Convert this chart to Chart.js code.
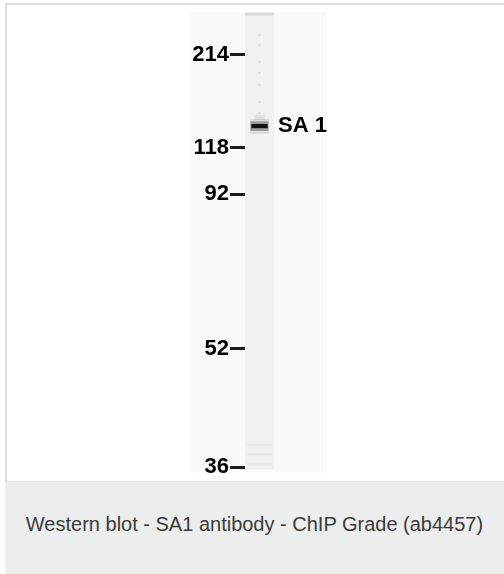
<!DOCTYPE html>
<html>
<head>
<meta charset="utf-8">
<script src="https://cdn.jsdelivr.net/npm/chart.js@4.4.1/dist/chart.umd.min.js"></script>
<style>
    body { margin: 0; width: 504px; height: 574px; overflow: hidden; background: #fff; position: relative; font-family: "Liberation Sans", Arial, sans-serif; }
    .frame { position: absolute; left: 5px; top: 3px; width: 504px; height: 476px; border-left: 2px solid #dcdcdc; border-top: 2px solid #dcdcdc; }
    .gel { position: absolute; left: 190px; top: 12px; width: 137px; height: 461px; background: #fafafa; }
    .caption { position: absolute; left: 5px; top: 481px; width: 499px; height: 93px; background: #eceeed; border-top: 1px solid #e2e2e2; box-sizing: border-box; }
    .caption span { position: absolute; left: 0; width: 100%; top: 31px; text-align: center; font-size: 20px; line-height: 23px; color: #3a3a3a; }
</style>
</head>
<body>
<div class="frame"></div>
<div class="gel"></div>
<div style="position:absolute;left:7px;top:5px;width:497px;height:476px">
    <canvas id="blot" width="497" height="476"></canvas>
</div>
<div class="caption"><span>Western blot - SA1 antibody - ChIP Grade (ab4457)</span></div>

<script>
// migration: 0 = top of the gel, 100 = bottom
var laneLabels = ['lane'];
var markerLabels = ['214', '118', '92', '52', '36'];
var markerMigration = [9.3, 29.5, 39.5, 73.1, 98.7];
var bandLabels = ['SA 1'];
var bandMigration = [24.7];
var laneRange = [0.2, 99.3];
var wellEdge = [0.2, 0.7];
var bandCore = [24.3, 25.2];
var bandHalo = [23.7, 25.8];
var bandGlow = [23.2, 26.4];
var smear = [22.3, 23.4];
var speckMigration = [5.0, 7.2, 10.8, 13.2, 15.8, 19.5, 21.9];
var streaks = [[93.6, 94.2], [95.7, 96.2], [97.7, 98.4]];

var fontFamily = '"Liberation Sans", Arial, sans-serif';

function floating(range, color, width) {
    return {
        type: 'bar',
        data: [range],
        backgroundColor: color,
        barPercentage: width,
        categoryPercentage: 1,
        grouped: false,
        borderWidth: 0
    };
}

var datasets = [
    floating(laneRange, '#f1f1f1', 1),
    floating(wellEdge, '#d8d8d8', 1)
];
streaks.forEach(function (s) {
    datasets.push(floating(s, 'rgba(0,0,0,0.035)', 0.85));
});
datasets.push(floating(smear, 'rgba(0,0,0,0.08)', 0.35));
datasets.push(floating(bandGlow, 'rgba(0,0,0,0.08)', 0.66));
datasets.push(floating(bandHalo, 'rgba(0,0,0,0.3)', 0.62));
datasets.push(floating(bandCore, '#111', 0.56));
datasets.push({
    type: 'line',
    showLine: false,
    data: speckMigration.map(function (v) { return { x: 'lane', y: v }; }),
    pointRadius: 1,
    pointBackgroundColor: 'rgba(0,0,0,0.1)',
    pointBorderWidth: 0
});
// later datasets go on top
datasets.forEach(function (d, i) { d.order = datasets.length - i; });

function fixWidth(w) {
    return function (scale) {
        scale.width = w;
        scale.paddingTop = 0;
        scale.paddingBottom = 0;
        scale.paddingLeft = 0;
        scale.paddingRight = 0;
    };
}

var yBase = {
    type: 'linear',
    min: 0,
    max: 100,
    reverse: true,
    border: { display: false }
};

new Chart(document.getElementById('blot').getContext('2d'), {
    type: 'bar',
    data: { labels: laneLabels, datasets: datasets },
    options: {
        responsive: false,
        animation: false,
        layout: { padding: { top: 7, bottom: 8, left: 0, right: 0 } },
        plugins: { legend: { display: false }, tooltip: { enabled: false } },
        scales: {
            x: { display: false },
            y: Object.assign({}, yBase, {
                position: 'left',
                afterBuildTicks: function (scale) {
                    scale.ticks = markerMigration.map(function (v) { return { value: v }; });
                },
                afterFit: fixWidth(238),
                grid: { drawOnChartArea: false, tickLength: 15, tickWidth: 3, tickColor: '#1c1c1c' },
                ticks: {
                    autoSkip: false,
                    padding: 1,
                    color: '#000',
                    font: { family: fontFamily, size: 22, weight: 'bold' },
                    callback: function (value, index) { return markerLabels[index]; }
                }
            }),
            y2: Object.assign({}, yBase, {
                position: 'right',
                afterBuildTicks: function (scale) {
                    scale.ticks = bandMigration.map(function (v) { return { value: v }; });
                },
                afterFit: fixWidth(230),
                grid: { display: false, drawTicks: false, tickLength: 0 },
                ticks: {
                    autoSkip: false,
                    padding: 4,
                    color: '#000',
                    font: { family: fontFamily, size: 22, weight: 'bold' },
                    callback: function (value, index) { return bandLabels[index]; }
                }
            })
        }
    }
});
</script>
</body>
</html>
